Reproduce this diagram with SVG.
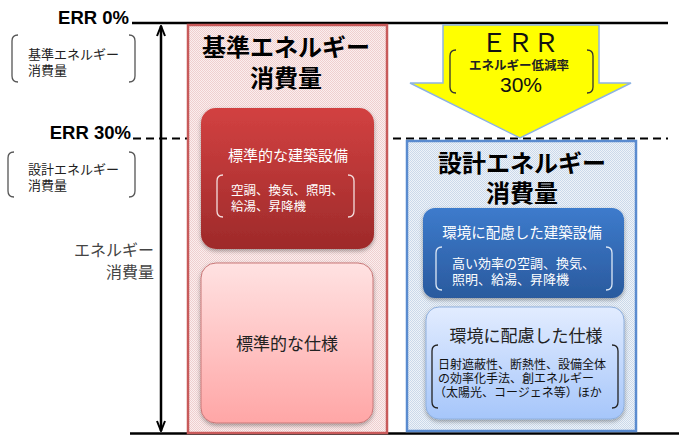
<svg xmlns="http://www.w3.org/2000/svg" width="700" height="443" viewBox="0 0 700 443">
<style>
text{font-family:"Liberation Sans","Noto Sans CJK JP",sans-serif}
.err{font-weight:bold;font-size:18.5px;fill:#000}
.title{font-weight:bold;font-size:24px;fill:#000}
.lbl{font-size:13px;fill:#222}
.wt{fill:#fff}
.br{fill:none;stroke-width:1.3}
</style>
<defs>
<linearGradient id="gRed" x1="0" y1="0" x2="0" y2="1"><stop offset="0" stop-color="#d24141"/><stop offset="1" stop-color="#9e2a2a"/></linearGradient>
<linearGradient id="gPink" x1="0" y1="0" x2="0" y2="1"><stop offset="0" stop-color="#ffe2e2"/><stop offset="1" stop-color="#ffa6a6"/></linearGradient>
<linearGradient id="gBlue" x1="0" y1="0" x2="0" y2="1"><stop offset="0" stop-color="#3d7bcc"/><stop offset="1" stop-color="#2a5a9e"/></linearGradient>
<linearGradient id="gLBlue" x1="0" y1="0" x2="0" y2="1"><stop offset="0" stop-color="#e2ecff"/><stop offset="1" stop-color="#a6c6fa"/></linearGradient>
<pattern id="pRed" width="2" height="2" patternUnits="userSpaceOnUse"><rect width="2" height="2" fill="#fbeeee"/><rect width="1" height="1" fill="#efcfcf"/><rect x="1" y="1" width="1" height="1" fill="#efcfcf"/></pattern>
<pattern id="pBlue" width="2" height="2" patternUnits="userSpaceOnUse"><rect width="2" height="2" fill="#eef3f9"/><rect width="1" height="1" fill="#cbd9ea"/><rect x="1" y="1" width="1" height="1" fill="#cbd9ea"/></pattern>
<filter id="sh" x="-10%" y="-10%" width="120%" height="125%"><feDropShadow dx="0" dy="2" stdDeviation="2" flood-color="#000" flood-opacity="0.35"/></filter>
<marker id="ah" viewBox="0 0 12 10" refX="11" refY="5" markerWidth="12" markerHeight="10" markerUnits="userSpaceOnUse" orient="auto-start-reverse"><path d="M1,1 L11,5 L1,9" fill="none" stroke="#000" stroke-width="2"/></marker>
</defs>

<g id="levels">
<line x1="132" y1="23" x2="668" y2="23" stroke="#000" stroke-width="2.5"/>
<line x1="133" y1="138.5" x2="668" y2="138.5" stroke="#000" stroke-width="2.2" stroke-dasharray="8,5"/>
<line x1="130" y1="433.5" x2="679" y2="433.5" stroke="#000" stroke-width="2.5"/>
<text class="err" x="129" y="24" text-anchor="end">ERR 0%</text>
<text class="err" x="131" y="139" text-anchor="end">ERR 30%</text>
</g>

<g id="connectors">
<line x1="161" y1="26" x2="161" y2="431" stroke="#000" stroke-width="2.5" marker-start="url(#ah)" marker-end="url(#ah)"/>
</g>

<g id="axis-label">
<text text-anchor="end" font-size="16" fill="#444"><tspan x="154" y="256">エネルギー</tspan><tspan x="154" y="278">消費量</tspan></text>
</g>

<g id="legend-base">
<path class="br" stroke="#555" d="M18,35 Q12,35 12,41 V76 Q12,82 18,82"/>
<path class="br" stroke="#555" d="M129,35 Q135,35 135,41 V76 Q135,82 129,82"/>
<text class="lbl"><tspan x="28" y="59">基準エネルギー</tspan><tspan x="28" y="75">消費量</tspan></text>
</g>
<g id="legend-design">
<path class="br" stroke="#555" d="M14,152 Q8,152 8,158 V191 Q8,197 14,197"/>
<path class="br" stroke="#555" d="M129,152 Q135,152 135,158 V191 Q135,197 129,197"/>
<text class="lbl"><tspan x="28" y="174">設計エネルギー</tspan><tspan x="28" y="190">消費量</tspan></text>
</g>

<g id="base-panel">
<rect x="188" y="25" width="199" height="408" fill="url(#pRed)" stroke="#c85a5a" stroke-width="2.5"/>
<text class="title" text-anchor="middle"><tspan x="286" y="56">基準エネルギー</tspan><tspan x="286" y="87">消費量</tspan></text>
</g>

<g id="base-equipment">
<rect x="201" y="108" width="173" height="141" rx="15" fill="url(#gRed)" filter="url(#sh)"/>
<text class="wt" x="288" y="161" text-anchor="middle" font-size="15">標準的な建築設備</text>
<path class="br" stroke="#f4dede" d="M223,175 Q217,175 217,181 V211 Q217,217 223,217"/>
<path class="br" stroke="#f4dede" d="M348,175 Q354,175 354,181 V211 Q354,217 348,217"/>
<text class="wt" font-size="12.5"><tspan x="231" y="195">空調、換気、照明、</tspan><tspan x="231" y="211">給湯、昇降機</tspan></text>
</g>

<g id="base-spec">
<rect x="201" y="263" width="172" height="160" rx="15" fill="url(#gPink)" stroke="#c97878" stroke-width="1" filter="url(#sh)"/>
<text x="287" y="350" text-anchor="middle" font-size="17" fill="#222">標準的な仕様</text>
</g>

<g id="design-panel">
<rect x="407" y="141" width="229" height="290" fill="url(#pBlue)" stroke="#5a8bcf" stroke-width="2.5"/>
<text class="title" text-anchor="middle"><tspan x="522" y="172">設計エネルギー</tspan><tspan x="522" y="202">消費量</tspan></text>
</g>

<g id="design-equipment">
<rect x="423" y="208" width="201" height="90" rx="12" fill="url(#gBlue)" filter="url(#sh)"/>
<text class="wt" x="522" y="238" text-anchor="middle" font-size="14.5">環境に配慮した建築設備</text>
<path class="br" stroke="#dde8f6" d="M442,247 Q436,247 436,253 V284 Q436,290 442,290"/>
<path class="br" stroke="#dde8f6" d="M606,247 Q612,247 612,253 V284 Q612,290 606,290"/>
<text class="wt" font-size="13"><tspan x="452" y="268">高い効率の空調、換気、</tspan><tspan x="452" y="284">照明、給湯、昇降機</tspan></text>
</g>

<g id="design-spec">
<rect x="426" y="307" width="198" height="112" rx="13" fill="url(#gLBlue)" stroke="#8fb0de" stroke-width="1" filter="url(#sh)"/>
<text x="526" y="342" text-anchor="middle" font-size="17" fill="#222">環境に配慮した仕様</text>
<path class="br" stroke="#222" d="M438,345 Q432,345 432,351 V402 Q432,408 438,408"/>
<path class="br" stroke="#222" d="M612,345 Q618,345 618,351 V402 Q618,408 612,408"/>
<text font-size="12" fill="#111"><tspan x="438" y="369">日射遮蔽性、断熱性、設備全体</tspan><tspan x="438" y="383">の効率化手法、創エネルギー</tspan><tspan x="434" y="397">（太陽光、コージェネ等）ほか</tspan></text>
</g>

<g id="err-arrow">
<path d="M443,25 H599 V83 H631 L520,138 L410,83 H443 Z" fill="#ffff00" stroke="#8eb4e3" stroke-width="1.5"/>
<path class="br" stroke="#333" d="M456,50 Q450,50 450,56 V87 Q450,93 456,93"/>
<path class="br" stroke="#333" d="M587,50 Q593,50 593,56 V87 Q593,93 587,93"/>
<text text-anchor="middle" fill="#111"><tspan x="520" y="52" font-size="26">ＥＲＲ</tspan><tspan x="519" y="70" font-size="12.5" font-weight="bold" fill="#222">エネルギー低減率</tspan><tspan x="521" y="92" font-size="21">30%</tspan></text>
</g>
</svg>
